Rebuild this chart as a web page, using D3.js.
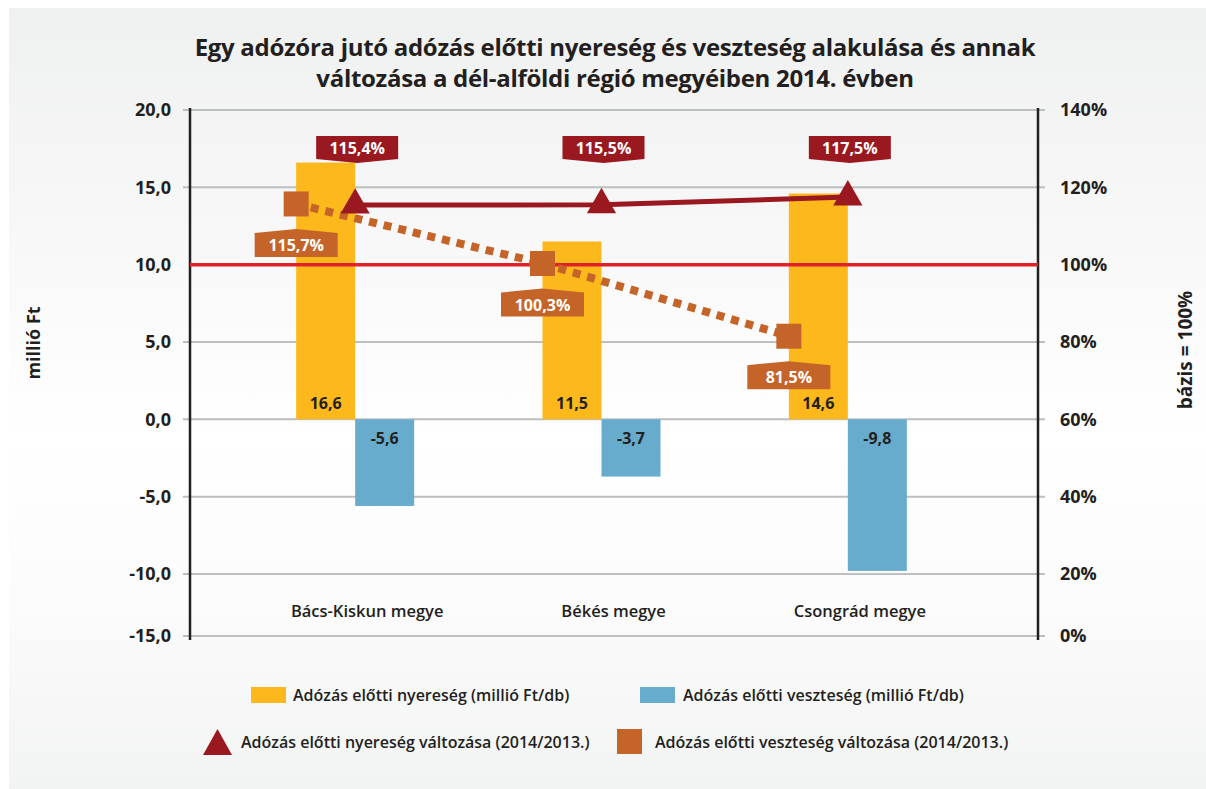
<!DOCTYPE html>
<html><head><meta charset="utf-8">
<script src="https://cdn.jsdelivr.net/npm/d3@7/dist/d3.min.js"></script>
<style>
html,body{margin:0;padding:0;background:#fff;}
svg{display:block;}
text{font-family:"Open Sans",sans-serif;fill:#231f20;}
</style></head>
<body>
<svg id="chart" width="1206" height="789"></svg>
<script>
// ---- data ----
const categories = ["Bács-Kiskun megye", "Békés megye", "Csongrád megye"];
const profit = [16.6, 11.5, 14.6];           // Adózás előtti nyereség (millió Ft/db)
const loss = [-5.6, -3.7, -9.8];             // Adózás előtti veszteség (millió Ft/db)
const profitChange = [115.4, 115.5, 117.5];  // % (2014/2013.)
const lossChange = [115.7, 100.3, 81.5];     // % (2014/2013.)
const leftTicks = [-15, -10, -5, 0, 5, 10, 15, 20];
const rightTicks = [0, 20, 40, 60, 80, 100, 120, 140];
const titleLines = ["Egy adózóra jutó adózás előtti nyereség és veszteség alakulása és annak",
                    "változása a dél-alföldi régió megyéiben 2014. évben"];
const legendLabels = ["Adózás előtti nyereség (millió Ft/db)", "Adózás előtti veszteség (millió Ft/db)",
                      "Adózás előtti nyereség változása (2014/2013.)", "Adózás előtti veszteség változása (2014/2013.)"];

const C = {yellow:"#fdb81c", blue:"#67abcd", dred:"#9a181f", orange:"#c56428", red:"#e2202a", grid:"#bcbec0", axis:"#231f20"};
const fmt = v => String(v.toFixed(1)).replace(".", ",");

const svg = d3.select("#chart");
const defs = svg.append("defs");
const g = defs.append("linearGradient").attr("id","bg").attr("x1",0).attr("y1",0).attr("x2",0).attr("y2",1);
[[0,"#eff0f0"],[0.3,"#f8f8f8"],[0.55,"#ffffff"],[0.78,"#fbfbfb"],[1,"#f2f3f3"]].forEach(s=>g.append("stop").attr("offset",s[0]).attr("stop-color",s[1]));
svg.append("rect").attr("x",9).attr("y",8).attr("width",1197).attr("height",781).attr("fill","url(#bg)");

// ---- scales ----
const plotL = 190, plotR = 1038;
const yL = d3.scaleLinear().domain([-15, -10, 20]).range([636, 574, 110]);
const yR = d3.scaleLinear().domain([0, 20, 140]).range([636, 574, 110]);
const x = d3.scaleBand().domain(categories).range([232, 971]);
const barW = 59;
const cx = c => x(c) + x.bandwidth() / 2;

// ---- title ----
svg.append("g").selectAll("text").data(titleLines).join("text")
  .attr("x", 615).attr("y", (d,i) => 56 + i*31).attr("text-anchor","middle")
  .style("font-weight",700).style("font-size","24px").style("letter-spacing","-0.3px")
  .text(d => d);

// ---- gridlines ----
svg.append("g").selectAll("line").data(leftTicks.filter(t => t !== 10)).join("line")
  .attr("x1", plotL - 7).attr("x2", plotR + 7).attr("y1", d => yL(d)).attr("y2", d => yL(d))
  .attr("stroke", C.grid).attr("stroke-width", 2);

// ---- axes ----
const axL = d3.axisLeft(yL).tickValues(leftTicks).tickFormat(fmt).tickSize(0).tickPadding(19);
const gL = svg.append("g").attr("transform", `translate(${plotL},0)`).call(axL);
gL.select(".domain").remove();
gL.selectAll("text").style("font-family","Open Sans, sans-serif").style("font-weight",700).style("font-size","18px").attr("fill","#231f20");
const axR = d3.axisRight(yR).tickValues(rightTicks).tickFormat(d => d + "%").tickSize(0).tickPadding(22);
const gR = svg.append("g").attr("transform", `translate(${plotR},0)`).call(axR);
gR.select(".domain").remove();
gR.selectAll("text").style("font-family","Open Sans, sans-serif").style("font-weight",700).style("font-size","18px").attr("fill","#231f20");

svg.append("line").attr("x1",plotL).attr("x2",plotL).attr("y1",yL(20)-2).attr("y2",yL(-15)+4).attr("stroke",C.axis).attr("stroke-width",2.5);
svg.append("line").attr("x1",plotR).attr("x2",plotR).attr("y1",yL(20)-2).attr("y2",yL(-15)+4).attr("stroke",C.axis).attr("stroke-width",2.5);

svg.append("text").attr("transform",`translate(40,343) rotate(-90)`).attr("text-anchor","middle")
  .style("font-weight",700).style("font-size","18px").text("millió Ft");
svg.append("text").attr("transform",`translate(1192,350) rotate(-90)`).attr("text-anchor","middle")
  .style("font-weight",700).style("font-size","19px").text("bázis = 100%");

// ---- bars ----
svg.append("g").selectAll("rect").data(categories).join("rect")
  .attr("x", d => cx(d) - barW).attr("width", barW)
  .attr("y", (d,i) => yL(profit[i])).attr("height", (d,i) => yL(0) - yL(profit[i]))
  .attr("fill", C.yellow);
svg.append("g").selectAll("rect").data(categories).join("rect")
  .attr("x", d => cx(d)).attr("width", barW)
  .attr("y", yL(0)).attr("height", (d,i) => yL(loss[i]) - yL(0))
  .attr("fill", C.blue);

// 100% reference line
svg.append("line").attr("x1",plotL).attr("x2",plotR).attr("y1",yR(100)).attr("y2",yR(100)).attr("stroke",C.red).attr("stroke-width",3.5);

// bar labels
svg.append("g").selectAll("text").data(categories).join("text")
  .attr("x", d => cx(d) - barW/2).attr("y", yL(0) - 10).attr("text-anchor","middle")
  .style("font-weight",700).style("font-size","16px").text((d,i) => fmt(profit[i]));
svg.append("g").selectAll("text").data(categories).join("text")
  .attr("x", d => cx(d) + barW/2).attr("y", yL(0) + 25).attr("text-anchor","middle")
  .style("font-weight",700).style("font-size","16px").text((d,i) => fmt(loss[i]));

// category labels
svg.append("g").selectAll("text").data(categories).join("text")
  .attr("x", d => cx(d) + 12).attr("y", 617).attr("text-anchor","middle")
  .style("font-weight",600).style("font-size","16.5px").text(d => d);

// ---- loss change (dotted line + squares) ----
const lossPts = categories.map((c,i) => [cx(c) - barW, yR(lossChange[i])]);
svg.append("path").attr("d", d3.line()(lossPts)).attr("fill","none")
  .attr("stroke", C.orange).attr("stroke-width", 8).attr("stroke-dasharray","8,7");
svg.append("g").selectAll("path").data(lossPts).join("path")
  .attr("transform", d => `translate(${d[0]},${d[1]})`)
  .attr("d", d3.symbol(d3.symbolSquare, 625)()).attr("fill", C.orange);

// ---- profit change (line + triangles) ----
const profPts = categories.map((c,i) => [cx(c), yR(profitChange[i])]);
svg.append("path").attr("d", d3.line()(profPts)).attr("fill","none")
  .attr("stroke", C.dred).attr("stroke-width", 5);
svg.append("g").selectAll("path").data(profPts).join("path")
  .attr("transform", d => `translate(${d[0]},${d[1]})`)
  .attr("d", d3.symbol(d3.symbolTriangle, 370)()).attr("fill", C.dred);

// ---- callout labels ----
const calloutDown = (w, h, p) => `M${-w/2},0H${w/2}V${h}L0,${h+p}L${-w/2},${h}Z`;
const calloutUp = (w, h, p) => `M${-w/2},${p}L0,0L${w/2},${p}V${h+p}H${-w/2}Z`;
const tl = svg.append("g").selectAll("g").data(profPts).join("g")
  .attr("transform", d => `translate(${d[0]+2},136)`);
tl.append("path").attr("d", calloutDown(82, 23, 4)).attr("fill", C.dred);
tl.append("text").attr("y", 18).attr("text-anchor","middle").style("fill","#fff")
  .style("font-weight",700).style("font-size","16px").text((d,i) => fmt(profitChange[i]) + "%");

const sl = svg.append("g").selectAll("g").data(lossPts).join("g")
  .attr("transform", d => `translate(${d[0]},${d[1]+25})`);
sl.append("path").attr("d", calloutUp(83, 24, 4)).attr("fill", C.orange);
sl.append("text").attr("y", 22).attr("text-anchor","middle").style("fill","#fff")
  .style("font-weight",700).style("font-size","16px").text((d,i) => fmt(lossChange[i]) + "%");

// ---- legend ----
const lg = svg.append("g").style("font-weight",600).style("font-size","16px");
lg.append("rect").attr("x",251).attr("y",687).attr("width",35).attr("height",16).attr("fill",C.yellow);
lg.append("text").attr("x",293).attr("y",701).text(legendLabels[0]);
lg.append("rect").attr("x",640).attr("y",687).attr("width",35).attr("height",16).attr("fill",C.blue);
lg.append("text").attr("x",683).attr("y",701).text(legendLabels[1]);
lg.append("path").attr("transform","translate(217.5,742)").attr("d","M0,-13L14.5,13H-14.5Z").attr("fill",C.dred);
lg.append("text").attr("x",241).attr("y",748).text(legendLabels[2]);
lg.append("rect").attr("x",617).attr("y",729).attr("width",25).attr("height",25).attr("fill",C.orange);
lg.append("text").attr("x",655).attr("y",748).text(legendLabels[3]);
</script>
</body></html>
